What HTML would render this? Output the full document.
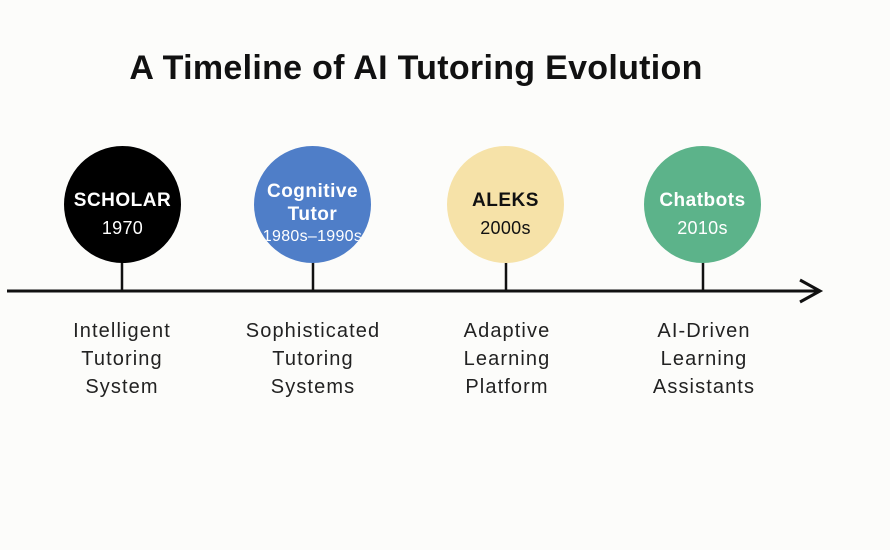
<!DOCTYPE html>
<html><head><style>
body{margin:0;width:890px;height:550px;background:#fcfcfa;font-family:"Liberation Sans",sans-serif;overflow:hidden;position:relative}
.t{position:absolute;left:0;width:832px;text-align:center;top:49px;font-size:34px;font-weight:bold;color:#111;letter-spacing:0.3px}
.c{position:absolute;width:117px;height:117px;border-radius:50%;text-align:center;overflow:hidden}
.c b{position:absolute;left:-20px;right:-20px;font-size:19px;letter-spacing:0.5px;line-height:23px}
.c span{position:absolute;left:-20px;right:-20px;font-size:18px;white-space:nowrap;letter-spacing:0.3px}
.l{position:absolute;width:200px;text-align:center;font-size:20px;line-height:28px;color:#222;top:317px;letter-spacing:1.1px}
</style></head><body>
<div class="t">A Timeline of AI Tutoring Evolution</div>
<svg width="890" height="550" style="position:absolute;left:0;top:0">
<line x1="7" y1="291" x2="818" y2="291" stroke="#111" stroke-width="3"/>
<polyline points="800,280 820,291 800,302" fill="none" stroke="#111" stroke-width="3"/>
<line x1="122" y1="255" x2="122" y2="291" stroke="#111" stroke-width="2.5"/>
<line x1="313" y1="255" x2="313" y2="291" stroke="#111" stroke-width="2.5"/>
<line x1="506" y1="255" x2="506" y2="291" stroke="#111" stroke-width="2.5"/>
<line x1="703" y1="255" x2="703" y2="291" stroke="#111" stroke-width="2.5"/>
</svg>
<div class="c" style="left:64px;top:146px;background:#000;color:#fff"><b style="top:43px">SCHOLAR</b><span style="top:72px">1970</span></div>
<div class="c" style="left:254px;top:146px;background:#4f7ec8;color:#fff"><b style="top:34px">Cognitive<br>Tutor</b><span style="top:82px;font-size:16px">1980s–1990s</span></div>
<div class="c" style="left:447px;top:146px;background:#f6e2a8;color:#111"><b style="top:43px">ALEKS</b><span style="top:72px">2000s</span></div>
<div class="c" style="left:644px;top:146px;background:#5cb38a;color:#fff"><b style="top:43px">Chatbots</b><span style="top:72px">2010s</span></div>
<div class="l" style="left:22px">Intelligent<br>Tutoring<br>System</div>
<div class="l" style="left:213px">Sophisticated<br>Tutoring<br>Systems</div>
<div class="l" style="left:407px">Adaptive<br>Learning<br>Platform</div>
<div class="l" style="left:604px">AI-Driven<br>Learning<br>Assistants</div>
</body></html>
